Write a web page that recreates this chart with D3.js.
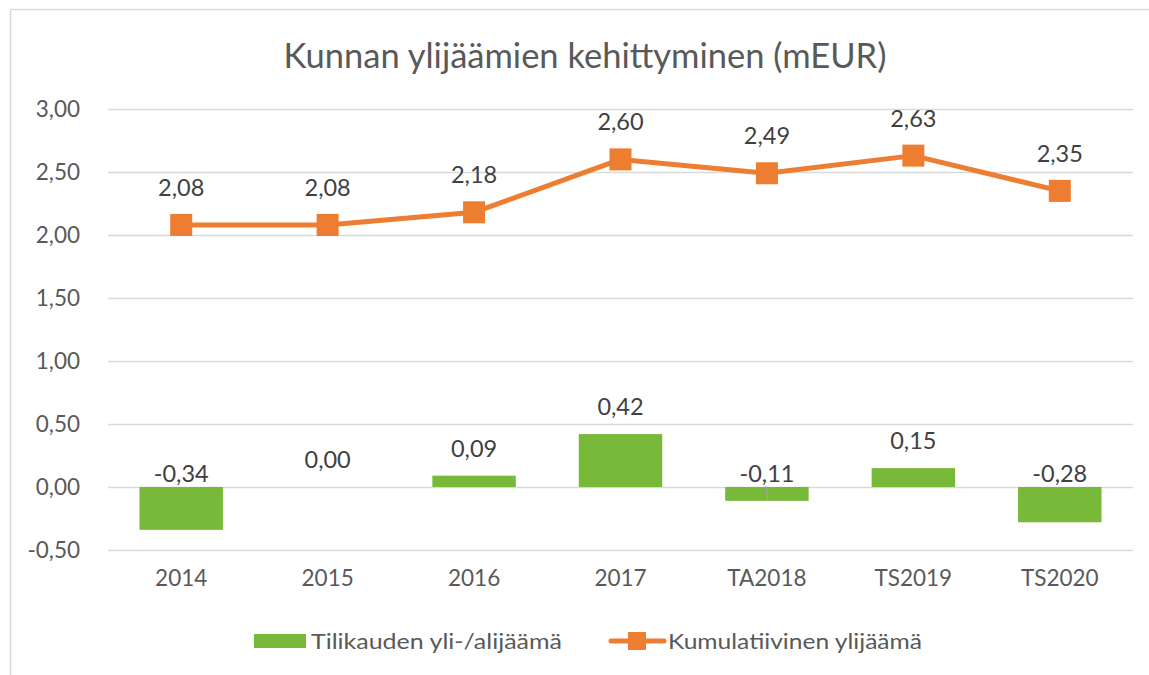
<!DOCTYPE html>
<html>
<head>
<meta charset="utf-8">
<script src="https://cdn.jsdelivr.net/npm/d3@7"></script>
<style>
  body { margin: 0; background: #fff; }
  text { font-family: Lato, "Open Sans", sans-serif; fill: #595959; }
</style>
</head>
<body>
<div id="chart"></div>
<script>
/* Data */
var categories = ["2014", "2015", "2016", "2017", "TA2018", "TS2019", "TS2020"];
var annual = [-0.34, 0.00, 0.09, 0.42, -0.11, 0.15, -0.28];
var cumulative = [2.08, 2.08, 2.18, 2.60, 2.49, 2.63, 2.35];
var yTicks = [-0.5, 0, 0.5, 1, 1.5, 2, 2.5, 3];
var seriesNames = ["Tilikauden yli-/alijäämä", "Kumulatiivinen ylijäämä"];
var title = "Kunnan ylijäämien kehittyminen (mEUR)";

var W = 1149, H = 675;
var margin = { top: 109, right: 16, bottom: 125, left: 108 };
var green = "#78B93A", orange = "#ED7D31";
var fmt = function(v) { return d3.format(".2f")(v).replace(".", ",").replace("\u2212", "-"); };

var svg = d3.select("#chart").append("svg")
  .attr("width", W)
  .attr("height", H);

/* outer frame: left and top only visible */
svg.append("path")
  .attr("d", "M10.5," + H + "V9.5H" + W)
  .attr("fill", "none")
  .attr("stroke", "#d9d9d9")
  .attr("stroke-width", 1.5);

svg.append("text")
  .attr("x", 585)
  .attr("y", 68)
  .attr("text-anchor", "middle")
  .style("font-size", "34.5px")
  .text(title);

var x = d3.scaleBand()
  .domain(categories)
  .range([margin.left, W - margin.right])
  .paddingInner(0.43)
  .paddingOuter(0.215);

var xc = function(c) { return x(c) + x.bandwidth() / 2; };

var y = d3.scaleLinear()
  .domain([-0.5, 3])
  .range([H - margin.bottom, margin.top]);

/* gridlines */
var yAxis = d3.axisLeft(y)
  .tickValues(yTicks)
  .tickSize(-(W - margin.right - margin.left))
  .tickPadding(28)
  .tickFormat(fmt);

var gy = svg.append("g")
  .attr("transform", "translate(" + margin.left + ",0)")
  .call(yAxis);
gy.select(".domain").remove();
gy.selectAll(".tick line").attr("stroke", "#d9d9d9").attr("stroke-width", 1.5);
gy.selectAll(".tick text").style("font-size", "22.5px").attr("dy", "0.35em");

/* x labels */
var xAxis = d3.axisBottom(x).tickSize(0).tickPadding(20);
var gx = svg.append("g")
  .attr("transform", "translate(0," + y(-0.5) + ")")
  .call(xAxis);
gx.select(".domain").remove();
gx.selectAll(".tick text").style("font-size", "22.5px");

/* bars */
svg.selectAll("rect.bar")
  .data(annual)
  .enter().append("rect")
    .attr("class", "bar")
    .attr("x", function(d, i) { return x(categories[i]); })
    .attr("width", x.bandwidth())
    .attr("y", function(d) { return y(Math.max(0, d)); })
    .attr("height", function(d) { return Math.abs(y(d) - y(0)); })
    .attr("fill", green);

/* bar labels */
svg.selectAll("text.barlabel")
  .data(annual)
  .enter().append("text")
    .attr("class", "barlabel")
    .attr("x", function(d, i) { return xc(categories[i]); })
    .attr("y", function(d) { return d < 0 ? y(0) - 5 : y(d) - 19; })
    .attr("text-anchor", "middle")
    .style("font-size", "23.5px")
    .style("fill", "#404040")
    .text(fmt);

/* leader line artifact on TA2018 */
svg.append("line")
  .attr("x1", xc("TA2018") - 1).attr("y1", y(0) - 1)
  .attr("x2", xc("TA2018") + 1).attr("y2", y(annual[4]))
  .attr("stroke", "#a6a6a6")
  .attr("stroke-width", 1.2);

/* line series */
var line = d3.line()
  .x(function(d, i) { return xc(categories[i]); })
  .y(function(d) { return y(d); });

svg.append("path")
  .datum(cumulative)
  .attr("d", line)
  .attr("fill", "none")
  .attr("stroke", orange)
  .attr("stroke-width", 5)
  .attr("stroke-linejoin", "round");

var ms = 22;
svg.selectAll("rect.marker")
  .data(cumulative)
  .enter().append("rect")
    .attr("class", "marker")
    .attr("x", function(d, i) { return xc(categories[i]) - ms / 2; })
    .attr("y", function(d) { return y(d) - ms / 2; })
    .attr("width", ms)
    .attr("height", ms)
    .attr("fill", orange);

svg.selectAll("text.linelabel")
  .data(cumulative)
  .enter().append("text")
    .attr("class", "linelabel")
    .attr("x", function(d, i) { return xc(categories[i]); })
    .attr("y", function(d) { return y(d) - 29; })
    .attr("text-anchor", "middle")
    .style("font-size", "23.5px")
    .style("fill", "#404040")
    .text(fmt);

/* legend */
var lg = svg.append("g").attr("class", "legend");
lg.append("rect")
  .attr("x", 254).attr("y", 634)
  .attr("width", 52).attr("height", 14)
  .attr("fill", green);
lg.append("text")
  .attr("x", 311).attr("y", 649)
  .style("font-size", "22px")
  .attr("textLength", 251)
  .attr("lengthAdjust", "spacingAndGlyphs")
  .text(seriesNames[0]);

lg.append("line")
  .attr("x1", 611).attr("x2", 664)
  .attr("y1", 641).attr("y2", 641)
  .attr("stroke", orange)
  .attr("stroke-width", 5)
  .attr("stroke-linecap", "round");
lg.append("rect")
  .attr("x", 628).attr("y", 632)
  .attr("width", 18).attr("height", 18)
  .attr("fill", orange);
lg.append("text")
  .attr("x", 668).attr("y", 649)
  .style("font-size", "22px")
  .attr("textLength", 254)
  .attr("lengthAdjust", "spacingAndGlyphs")
  .text(seriesNames[1]);
</script>
</body>
</html>
